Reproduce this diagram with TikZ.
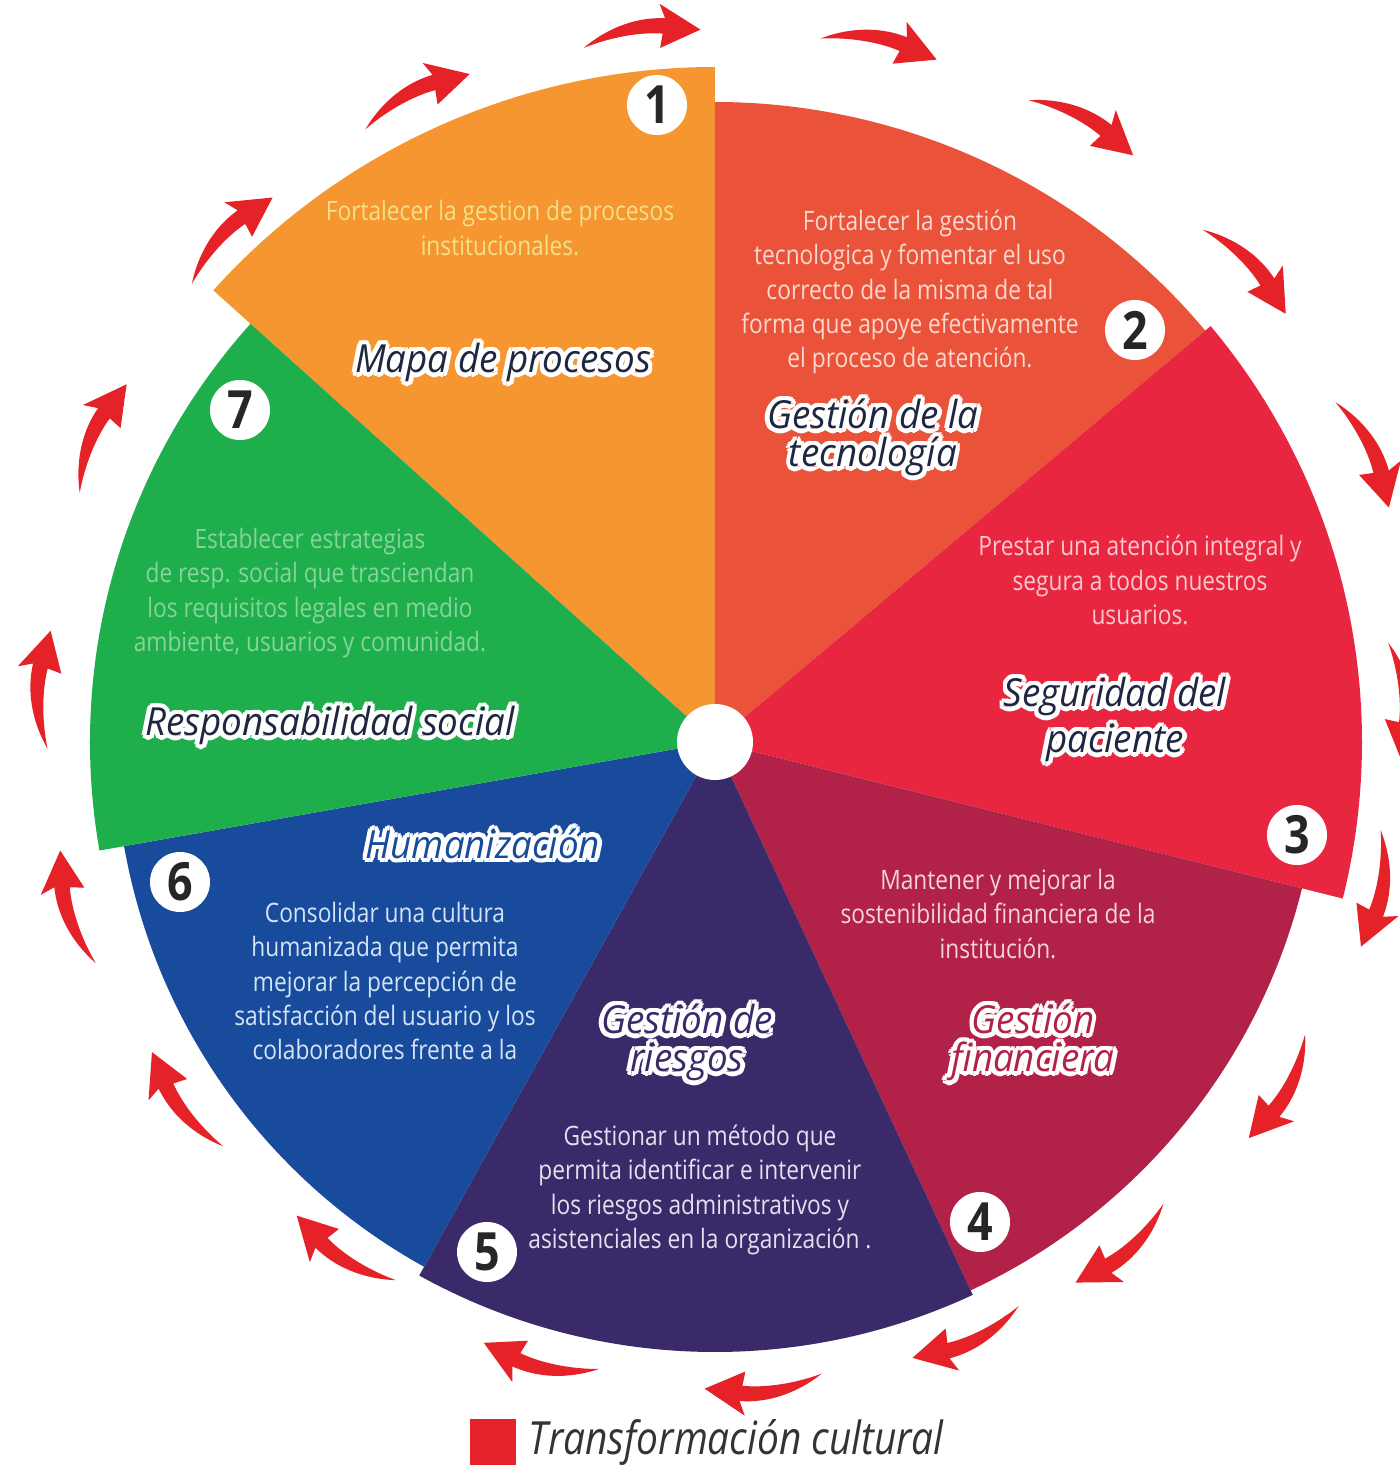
\documentclass[tikz,border=0pt]{standalone}
\usepackage{fontspec}
\usepackage[copies]{contour}
\usetikzlibrary{positioning}
\setmainfont{Open Sans}
\newfontfamily\bodyfont{Open Sans}[FakeStretch=0.85]
\newfontfamily\headfont{Open Sans}[FakeStretch=0.95]
\contourlength{1.3pt}
\contournumber{12}

\definecolor{segorange}{HTML}{F59630}
\definecolor{segtomato}{HTML}{EA533A}
\definecolor{segred}{HTML}{E92640}
\definecolor{segwine}{HTML}{B22148}
\definecolor{segplum}{HTML}{3A2A6A}
\definecolor{segblue}{HTML}{184B9B}
\definecolor{seggreen}{HTML}{1FAE4C}
\definecolor{arrowred}{HTML}{E52228}
\definecolor{headnavy}{HTML}{1E2640}

\newcommand{\halo}[2]{\contour{white}{\textcolor{#1}{#2}}}

\tikzset{
  desc/.style={align=center, inner sep=0pt, font=\bodyfont\fontsize{7.6}{9.8}\selectfont},
  head/.style={align=center, inner sep=0pt, font=\headfont\itshape\fontsize{11}{10.8}\selectfont},
  numdot/.style={circle, fill=white, minimum size=0.6cm, inner sep=0pt, text=black!85,
    font=\bodyfont\bfseries\fontsize{15}{15}\selectfont},
  pics/turnarrow/.style={code={
    \fill[arrowred] (-58,-12) .. controls (-30,7) and (0,13) .. (26,9) -- (22,24) -- (60,-6)
      -- (18,-20) -- (22,-6) .. controls (0,-2) and (-30,-4) .. (-58,-12) -- cycle;
  }}
}

\begin{document}
\begin{tikzpicture}[x=0.01cm, y=0.01cm]
  \clip (-715,-730) rectangle (685,742);
  \fill[white] (-715,-730) rectangle (685,742);

  % wheel segments
  \foreach \from/\to/\rad/\col in {90/138/675/segorange, 40/90/640/segtomato,
      -14/40/647/segred, -65/-14/605/segwine, -119/-65/610/segplum,
      -170/-119/600/segblue, 138/190/625/seggreen}
    \fill[\col] (0,0) -- (\from:\rad) arc[start angle=\from, end angle=\to, radius=\rad] -- cycle;
  \fill[white] (0,0) circle[radius=38];

  % arrows round the wheel
  \foreach \a/\r in {96/716, 76.8/721, 59.3/724, 41.7/717, 24/717, 3.5/690, -12.5/681,
      -31.4/668, -51/653, -66.9/650, -85.6/650, -105.7/647, -126/635, -145.8/646,
      -165.4/667, 175.6/677, 153.7/692, 134/705, 115/715}
    \pic[rotate=\a-90] at (\a:\r) {turnarrow};

  % titles
  \node[head] (mapa) at (-212,377) {\halo{headnavy}{Mapa de procesos}};
  \node[head] (tecno) at (158,302) {\halo{headnavy}{Gestión de la}\\\halo{headnavy}{tecnología}};
  \node[head] (segur) at (400,20) {\halo{headnavy}{Seguridad del}\\\halo{headnavy}{paciente}};
  \node[head] (finan) at (318,-303) {\halo{segwine}{Gestión}\\\halo{segwine}{financiera}};
  \node[head] (riesg) at (-28,-303) {\halo{segplum}{Gestión de}\\\halo{segplum}{riesgos}};
  \node[head] (human) at (-232,-104) {\halo{segblue}{Humanización}};
  \node[head] (respo) at (-385,14) {\halo{headnavy}{Responsabilidad social}};

  % descriptions
  \node[desc, text={rgb,255:red,243;green,224;blue,138}] (d1) at (-215,514)
    {Fortalecer la gestion de procesos\\institucionales.};
  \node[desc, text={rgb,255:red,249;green,217;blue,207}] (d2) at (195,450)
    {Fortalecer la gestión\\tecnologica y fomentar el uso\\correcto de la misma de tal\\forma que apoye efectivamente\\el proceso de atención.};
  \node[desc, text={rgb,255:red,248;green,201;blue,207}] (d3) at (425,162)
    {Prestar una atención integral y\\segura a todos nuestros\\usuarios.};
  \node[desc, text={rgb,255:red,241;green,212;blue,220}] (d4) at (283,-172)
    {Mantener y mejorar la\\sostenibilidad financiera de la\\institución.};
  \node[desc, text={rgb,255:red,227;green,225;blue,238}] (d5) at (-15,-448)
    {Gestionar un método que\\permita identificar e intervenir\\los riesgos administrativos y\\asistenciales en la organización .};
  \node[desc, text={rgb,255:red,212;green,228;blue,246}] (d6) at (-330,-239)
    {Consolidar una cultura\\humanizada que permita\\mejorar la percepción de\\satisfacción del usuario y los\\colaboradores frente a la};
  \node[desc, text={rgb,255:red,134;green,212;blue,154}] (d7) at (-405,149)
    {Establecer estrategias\\de resp. social que trasciendan\\los requisitos legales en medio\\ambiente, usuarios y comunidad.};

  % numbers
  \node[numdot] (n1) at (-58,637) {1};
  \node[numdot] (n2) at (420,412) {2};
  \node[numdot] (n3) at (582,-93) {3};
  \node[numdot] (n4) at (265,-480) {4};
  \node[numdot] (n5) at (-228,-510) {5};
  \node[numdot] (n6) at (-535,-140) {6};
  \node[numdot] (n7) at (-475,332) {7};

  % legend
  \node[fill=arrowred, minimum size=0.45cm, inner sep=0pt] (key) at (-222,-700) {};
  \node[right=0.12cm of key, inner sep=0pt, text=black!80,
    font=\bodyfont\itshape\fontsize{13}{13}\selectfont] (keytext) {Transformación cultural};
\end{tikzpicture}
\end{document}
